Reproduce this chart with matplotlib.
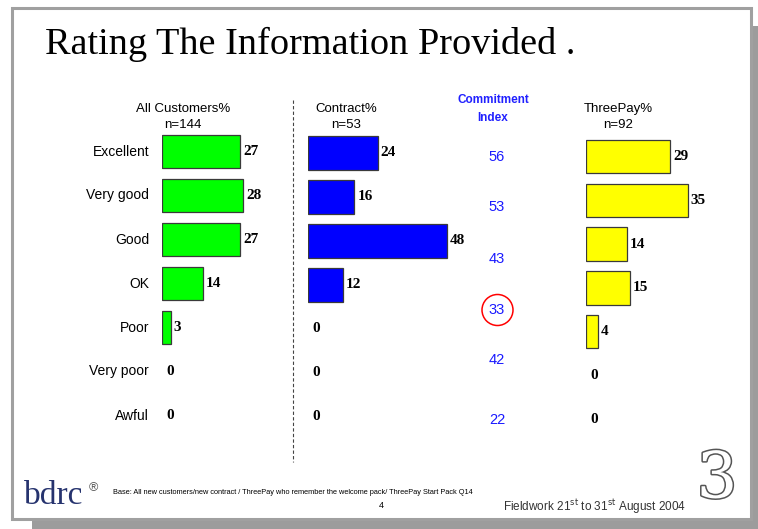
import matplotlib
matplotlib.use('Agg')
import matplotlib.pyplot as plt
from matplotlib.patches import Rectangle, Circle
import matplotlib.patheffects as pe

# ---- data ----
categories = ['Excellent', 'Very good', 'Good', 'OK', 'Poor', 'Very poor', 'Awful']
all_customers = [27, 28, 27, 14, 3, 0, 0]
contract = [24, 16, 48, 12, 0, 0, 0]
threepay = [29, 35, 14, 15, 4, 0, 0]
commitment_index = [56, 53, 43, 33, 42, 22]
highlight = 33

headers = [('All Customers%', 'n=144'), ('Contract%', 'n=53'), ('ThreePay%', 'n=92')]

W, H = 758, 529
fig = plt.figure(figsize=(W / 100, H / 100), dpi=100)
ax0 = fig.add_axes([0, 0, 1, 1])
ax0.set_xlim(0, W)
ax0.set_ylim(H, 0)
ax0.axis('off')

SANS = 'Liberation Sans'
SERIF = 'Liberation Serif'

# slide frame + shadow
ax0.add_patch(Rectangle((32, 26), W - 32, H - 26, facecolor='#9c9c9c', edgecolor='none'))
ax0.add_patch(Rectangle((12, 8), 739, 511, facecolor='white', edgecolor='#a0a0a0', linewidth=2.2))

# title
ax0.text(45, 54, 'Rating The Information Provided .', family=SERIF, fontsize=27.5,
         ha='left', va='baseline', color='black')


def bar_panel(values, color, left, row0, spacing, scale=2.9, xmax=60):
    top = row0 - spacing / 2
    h = 7 * spacing
    w = xmax * scale
    ax = fig.add_axes([left / W, 1 - (top + h) / H, w / W, h / H])
    ax.set_xlim(0, xmax)
    ax.set_ylim(6.5, -0.5)
    ax.axis('off')
    ax.patch.set_alpha(0)
    idx = [i for i, v in enumerate(values) if v > 0]
    ax.barh(idx, [values[i] for i in idx], height=0.76, color=color,
            edgecolor='#3a3a3a', linewidth=0.9)
    for i, v in enumerate(values):
        ax.annotate(str(v), xy=(v, i), xytext=(3 if v > 0 else 4, 0),
                    textcoords='offset pixels', va='center', ha='left',
                    fontsize=11, fontweight='bold', family=SERIF)
    return ax


bar_panel(all_customers, '#00ff00', 162, 151.5, 44)
bar_panel(contract, '#0000ff', 308, 153, 44)
bar_panel(threepay, '#ffff00', 586, 156.5, 43.8)

# category labels
for i, c in enumerate(categories):
    ax0.text(149, 151.5 + 44 * i, c, ha='right', va='center', fontsize=10, family=SANS)

# column headers
for (h1, h2), xc in zip(headers, [183, 346, 618]):
    ax0.text(xc, 109, h1, ha='center', va='center', fontsize=9.5, family=SANS)
    ax0.text(xc, 125, h2, ha='center', va='center', fontsize=9.5, family=SANS)

ax0.text(493, 100, 'Commitment', ha='center', va='center', fontsize=8.5,
         fontweight='bold', color='#2020ff', family=SANS)
ax0.text(493, 118, 'Index', ha='center', va='center', fontsize=8.5,
         fontweight='bold', color='#2020ff', family=SANS)

index_y = [157, 207, 259, 310, 360, 420]
for v, y in zip(commitment_index, index_y):
    ax0.text(497, y, str(v), ha='center', va='center', fontsize=10.5,
             color='#1a1aff', family=SANS)
    if v == highlight:
        ax0.add_patch(Circle((497.5, y), 15.5, facecolor='none', edgecolor='red', linewidth=1.1))

# dashed divider
ax0.plot([293, 293], [100, 462], ls=(0, (3, 2)), color='#444444', lw=0.8)

# footer
ax0.text(24, 504, 'bdrc', family=SERIF, fontsize=24, color='#26336e', ha='left', va='baseline')
ax0.text(93, 488, '\u00ae', family=SANS, fontsize=9, color='#555555', ha='center', va='center')
ax0.text(113, 492, 'Base: All new customers/new contract / ThreePay who remember the welcome pack/ ThreePay Start Pack Q14',
         family=SANS, fontsize=5.3, ha='left', va='center')
ax0.text(381, 506, '4', family=SANS, fontsize=6.5, ha='center', va='center')
ax0.text(503, 507, r'Fieldwork 21$^{\mathrm{st}}$ to 31$^{\mathrm{st}}$ August 2004',
         family=SANS, fontsize=8.5, ha='left', va='center', color='#333333')

# three logo
ax0.text(717, 480, '3', family='DejaVu Serif', fontsize=46, ha='center', va='center',
         color='white', path_effects=[pe.withStroke(linewidth=2.2, foreground='#555555')])

fig.savefig('out.png', dpi=100)
